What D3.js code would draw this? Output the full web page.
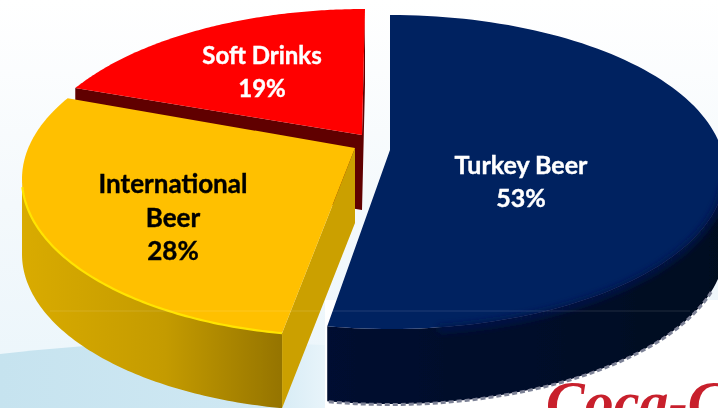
<!DOCTYPE html>
<html><head><meta charset="utf-8">
<script src="https://cdn.jsdelivr.net/npm/d3@7"></script>
<style>html,body{margin:0;padding:0;background:#fff;overflow:hidden}svg{display:block}
text{font-family:Lato,"Open Sans",sans-serif;font-weight:700}</style>
</head><body><svg id="c" width="718" height="408"></svg>
<script>
const categories = ["Turkey Beer", "International Beer", "Soft Drinks"];
const shares = [53, 28, 19];
const labelLines = [["Turkey Beer", "53%"], ["International", "Beer", "28%"], ["Soft Drinks", "19%"]];

const svg = d3.select("#c");
const defs = svg.append("defs");
const W = 718, H = 408, depth = 75;

function grad(id, stops, x1 = 0, y1 = 0, x2 = 1, y2 = 0) {
  const g = defs.append("linearGradient").attr("id", id).attr("x1", x1).attr("y1", y1).attr("x2", x2).attr("y2", y2);
  stops.forEach(s => g.append("stop").attr("offset", s[0]).attr("stop-color", s[1]));
}
grad("bg", [[0, "#ffffff"], [.5, "#f4f9fc"], [1, "#eaf5fb"]], 0, 0, 0, 1);
grad("bgLow", [[0, "#c6e3ef"], [.8, "#cfe8f3"], [1, "#e8f4fa"]]);
grad("wallGold", [[0, "#d9ab00"], [.55, "#c49b00"], [1, "#957400"]]);
grad("wallNavy", [[0, "#000c30"], [.6, "#000a28"], [1, "#00081f"]]);
const bl = defs.append("filter").attr("id", "soft").attr("x", "-5%").attr("y", "-5%").attr("width", "110%").attr("height", "110%");
bl.append("feGaussianBlur").attr("stdDeviation", .6);
const bl2 = defs.append("filter").attr("id", "softer").attr("x", "-10%").attr("y", "-10%").attr("width", "120%").attr("height", "120%");
bl2.append("feGaussianBlur").attr("stdDeviation", 3);
defs.append("filter").attr("id", "txt").append("feGaussianBlur").attr("stdDeviation", .35);

// pie layout straight from the data, clockwise from 12 o'clock
const arcs = d3.pie().sort(null).value(d => d)(shares);

// foreshortening of the 3-D view: data angle -> visible rim angle
const view = d3.scaleLinear()
  .domain([0, arcs[0].endAngle, arcs[1].endAngle, 2 * Math.PI])
  .range([0, arcs[0].endAngle, 301 * Math.PI / 180, 2 * Math.PI]);

const geom = [
  {cx: 390, cy: 172, rx: 335, ry: 157, apex: [390, 150], top: "#002060", side: "url(#wallNavy)"},
  {cx: 342, cy: 179, rx: 320, ry: 157, apex: [355, 148], top: "#ffc000", side: "url(#wallGold)", cut: "#cba000"},
  {cx: 365, cy: 172, rx: 338, ry: 163, apex: [362, 135], top: "#ff0000", side: "#600000", cut: "#600000"}
];
const rim = (g, a) => [g.cx + g.rx * Math.sin(a), g.cy - g.ry * Math.cos(a)];
const rimPts = (g, a0, a1) => d3.range(0, 121).map(i => rim(g, view(a0 + (a1 - a0) * i / 120)));
const line = d3.line();

// background
svg.append("rect").attr("width", W).attr("height", H).attr("fill", "url(#bg)");
svg.append("path").attr("d", "M0,354 C90,344 170,338 325,345 L325,408 L0,408 Z").attr("fill", "url(#bgLow)");
svg.append("rect").attr("x", 325).attr("y", 300).attr("width", 393).attr("height", 108).attr("fill", "#ffffff");

// logo peeking in at the bottom right
svg.append("text").attr("x", 546).attr("y", 421).attr("fill", "#c8202c")
  .style("font-family", "'Liberation Serif',serif").style("font-style", "italic").style("font-size", "58px")
  .text("Coca-Cola");

const pie = svg.append("g").attr("filter", "url(#soft)");

function slice(i) {
  const d = arcs[i], g = geom[i], G = pie.append("g");
  const pts = rimPts(g, d.startAngle, d.endAngle);
  const lowered = p => [p[0], p[1] + depth];
  const front = pts.filter(p => p[1] >= g.cy);
  if (front.length) {
    const wall = front.concat(front.map(lowered).reverse());
    G.append("path").attr("d", line(wall) + "Z").attr("fill", g.side);
  }
  if (i === 1) {
    const near = pts[0];
    G.append("path").attr("d", line([g.apex, lowered(g.apex), lowered(near), near]) + "Z").attr("fill", g.cut);
  }
  if (i === 2) {
    const far = pts[0], near = pts[pts.length - 1];
    G.append("path").attr("d", line([near, g.apex, far, lowered(far), lowered(g.apex), lowered(near)]) + "Z").attr("fill", g.cut);
  }
  G.append("path").attr("d", line([g.apex, ...pts]) + "Z").attr("fill", g.top);
  if (i === 1) {
    const hl = pts.filter(p => p[1] >= g.cy + 8);
    G.append("path").attr("d", line(hl)).attr("fill", "none").attr("stroke", "#ffe400").attr("stroke-width", 2.2);
  }
  if (i === 2) {
    const far = pts[0];
    G.append("line").attr("x1", far[0] - 1).attr("x2", far[0] - 1).attr("y1", far[1] + 86).attr("y2", far[1] + 166)
      .attr("stroke", "#ff9c9c").attr("stroke-width", 2.5);
  }
  return pts;
}
// paint back to front
slice(2); slice(1);
const tp = slice(0);
const fr = tp.filter(p => p[1] > 215);
pie.append("path").attr("d", line(fr.map(p => [p[0], p[1] + depth + .5])))
  .attr("fill", "none").attr("stroke", "#7d8296").attr("stroke-width", 3).attr("stroke-dasharray", "5 3");
// soft shoulder where the navy top rolls over into the wall
const sh = tp.filter(p => p[1] > 180 && p[0] > 430);
svg.append("path").attr("d", line(sh.map(p => [p[0], p[1] + 2]))).attr("filter", "url(#softer)")
  .attr("fill", "none").attr("stroke", "#00164a").attr("stroke-width", 7);

// photographic seam
svg.append("line").attr("x1", 50).attr("x2", 690).attr("y1", 311).attr("y2", 311)
  .attr("stroke", "#ffffff").attr("stroke-opacity", .13);

// labels
const labelColors = ["#ffffff", "#000000", "#ffffff"];
const labelAt = [[521, 174], [173, 193], [262, 64]];
const labelSize = [25, 26, 24];
const lg = svg.append("g").attr("filter", "url(#txt)");
labelLines.forEach((ls, i) => ls.forEach((t, j) => {
  lg.append("text").attr("x", labelAt[i][0]).attr("y", labelAt[i][1] + j * (i === 1 ? 33.5 : 33))
    .attr("fill", labelColors[i]).attr("stroke", labelColors[i]).attr("stroke-width", .4)
    .style("text-anchor", "middle").style("font-size", labelSize[i] + "px").text(t);
}));
</script></body></html>
